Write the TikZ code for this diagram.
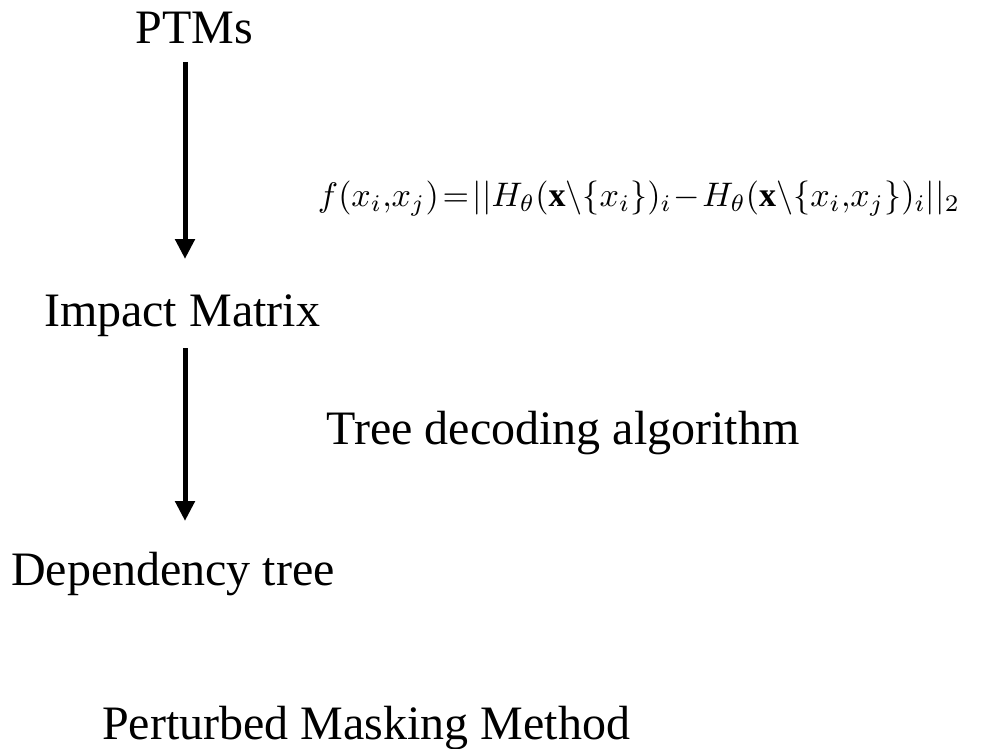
\documentclass[tikz,border=0pt]{standalone}
\usepackage{fontspec}
\setmainfont{Liberation Serif}
\usepackage{amsmath}
\usetikzlibrary{arrows.meta}
\begin{document}
\begin{tikzpicture}[x=1pt,y=-1pt,
  label/.style={inner sep=0pt,anchor=base,font=\fontsize{48}{56}\selectfont},
  flow/.style={line width=5pt,-{Triangle[length=20pt,width=19pt]}}]
\useasboundingbox (0,0) rectangle (982,749);
% stage labels
\node[label] (ptm) at (194,44) {PTMs};
\node[label] (imp) at (182,326) {Impact Matrix};
\node[label] (dec) at (563,444) {Tree decoding algorithm};
\node[label] (dep) at (173,585) {Dependency tree};
\node[label,anchor=base west] (pmm) at (102,739) {Perturbed Masking Method};
% impact function
\node[inner sep=0pt] (fn) at (639,199) {\resizebox{642pt}{!}{$f(x_i{,}x_j)\!=\!||H_\theta(\mathbf{x}\backslash\{x_i\})_i\!-\!H_\theta(\mathbf{x}\backslash\{x_i{,}x_j\})_i||_2$}};
% arrows between stages
\coordinate (a1s) at (185,62);
\coordinate (a1e) at (185,259);
\coordinate (a2s) at (185,348);
\coordinate (a2e) at (185,521);
\draw[flow] (a1s) -- (a1e);
\draw[flow] (a2s) -- (a2e);
\end{tikzpicture}
\end{document}
